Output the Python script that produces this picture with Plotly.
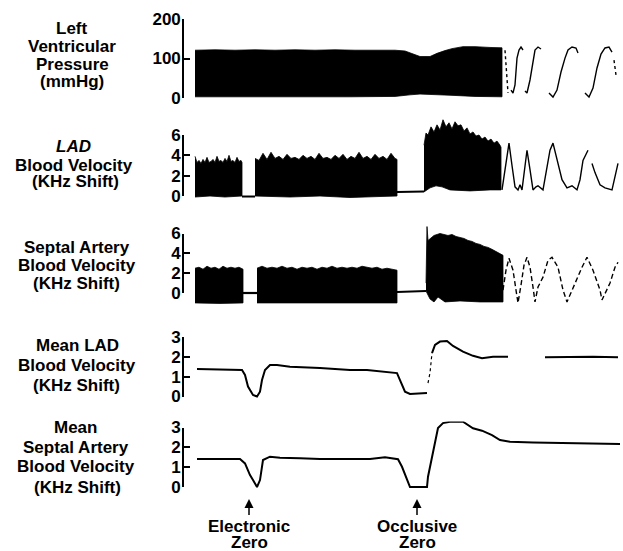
import plotly.graph_objects as go

W, H = 623, 551
ML, MR = 184, 3

# ---------------- data (time in chart units, values in axis units) ----------------
# Left ventricular pressure (mmHg): compressed high-frequency band envelope
lv_t_up = [195, 215, 235, 255, 275, 295, 315, 335, 355, 375, 395, 405, 412, 420, 430, 437, 445, 452, 463, 475, 490, 502]
lv_up = [121, 122, 121, 122, 121, 122, 121, 122, 121, 121, 121, 119, 113, 105, 105, 113, 120, 125, 130, 130, 128, 127]
lv_t_lo = [195, 250, 300, 350, 395, 410, 420, 435, 450, 475, 502]
lv_lo = [3, 3, 3, 3, 4, 8, 10, 9, 7, 4, 3]
# expanded-speed LV waveform (None = pen trace not visible)
lv_wave_t = [511, 513, 515, 516, 517, 519, 521, 523, None,
             525, 527, 530, 533, 535, 538, 541, None,
             549, 553, 557, 561, 565, 568, 572, 576, 578, None,
             585, 589, 593, 597, 601, 605, 609, 612]
lv_wave = [20, 12.7, 33, 71, 101, 121.5, 129, 121.5, None,
           17.7, 12.7, 45.6, 96, 121.5, 129, 124, None,
           12.7, 2.5, 20, 65.8, 101, 121.5, 129, 126.6, 114, None,
           12.7, 2.5, 25, 76, 111, 126.6, 129, 116]
lv_dots_t = [505, 506, 507, 508, None, 614, 616]
lv_dots = [121, 90, 45, 13, None, 96, 58]

# LAD blood velocity (kHz shift)
lad1_t_up = [195, 197, 199, 201, 203, 205, 207, 209, 211, 213, 215, 217, 219, 221, 223, 225, 227, 229, 231, 233, 235, 237, 239, 241, 242]
lad1_up = [3.9, 3.3, 3.5, 3.2, 3.6, 3.3, 3.8, 3.3, 3.4, 3.6, 3.3, 3.9, 3.4, 3.5, 3.3, 3.7, 3.4, 4.0, 3.4, 3.5, 3.3, 3.8, 3.4, 3.5, 3.3]
lad1_t_lo = [195, 210, 225, 242]
lad1_lo = [-0.1, 0.0, -0.1, 0.0]
lad2_t_up = [255, 259, 263, 267, 271, 275, 279, 283, 287, 291, 295, 299, 303, 307, 311, 315, 319, 323, 327,
             331, 335, 339, 343, 347, 351, 355, 359, 363, 367, 371, 375, 379, 383, 387, 391, 395, 397]
lad2_up = [3.7, 3.5, 4.2, 3.6, 4.3, 3.7, 3.9, 3.6, 4.1, 3.7, 3.8, 3.6, 4.0, 3.7, 3.9, 3.6, 4.2, 3.7, 3.8,
           3.6, 4.0, 3.7, 4.1, 3.6, 3.9, 3.7, 4.3, 3.7, 3.9, 3.6, 4.1, 3.7, 3.9, 3.6, 4.2, 3.7, 3.6]
lad2_t_lo = [255, 290, 320, 350, 380, 397]
lad2_lo = [0.0, -0.1, 0.0, -0.15, -0.05, 0.0]
lad3_t_up = [424, 426, 428, 431, 434, 437, 440, 443, 446, 449, 452, 455, 458, 461, 464, 467, 470, 473, 476,
             479, 482, 485, 488, 491, 494, 497, 500, 501]
lad3_up = [5.0, 6.2, 6.0, 6.8, 6.3, 7.0, 6.5, 7.5, 6.8, 7.2, 6.6, 7.3, 6.9, 7.0, 6.4, 6.7, 6.1, 6.3, 5.9,
           6.0, 5.6, 5.8, 5.4, 5.6, 5.2, 5.4, 5.0, 4.8]
lad3_t_lo = [424, 430, 436, 442, 450, 470, 490, 501]
lad3_lo = [0.4, 0.8, 1.0, 0.9, 0.6, 0.5, 0.6, 0.6]
lad_zero_t = [242, 255, None, 397, 424]
lad_zero = [-0.05, -0.05, None, 0.4, 0.45]
lad_wave_t = [502, 505, 509, 512, 515, 518, 520, 522, 524, 527, 530, 533, 536, 538, 543, 547, 550, 553, 557,
              562, 567, 572, 577, 580, 583, 588, None, 592, 595, 600, 605, 612, 615, 618]
lad_wave = [0.6, 2.6, 5.2, 3.0, 0.9, 0.6, 1.1, 0.6, 2.1, 4.5, 2.6, 0.6, 0.9, 1.0, 0.6, 2.9, 4.5, 5.2, 3.5,
            1.6, 0.8, 1.0, 0.6, 1.6, 3.5, 4.5, None, 3.2, 2.3, 1.1, 0.8, 0.6, 1.9, 3.2]

# Septal artery blood velocity (kHz shift)
sep1_t_up = [195, 199, 203, 207, 211, 215, 219, 223, 227, 231, 235, 239, 243]
sep1_up = [2.5, 2.6, 2.4, 2.7, 2.5, 2.6, 2.4, 2.7, 2.5, 2.6, 2.5, 2.6, 2.4]
sep1_t_lo = [195, 220, 243]
sep1_lo = [-1.0, -1.05, -1.0]
sep2_t_up = [257, 262, 267, 272, 277, 282, 287, 292, 297, 302, 307, 312, 317, 322, 327, 332, 337, 342, 347,
             352, 357, 362, 367, 372, 377, 382, 387, 392, 397]
sep2_up = [2.5, 2.7, 2.5, 2.6, 2.5, 2.7, 2.5, 2.6, 2.4, 2.6, 2.5, 2.6, 2.4, 2.6, 2.5, 2.7, 2.5, 2.6, 2.5,
           2.6, 2.5, 2.7, 2.6, 2.5, 2.6, 2.4, 2.5, 2.4, 2.3]
sep2_t_lo = [257, 300, 350, 397]
sep2_lo = [-1.0, -1.05, -1.0, -1.0]
sep3_t_up = [426, 427, 428, 431, 434, 437, 440, 444, 448, 452, 456, 460, 464, 468, 472, 476, 480, 484, 488,
             492, 496, 500, 503]
sep3_up = [1.0, 6.7, 5.3, 5.6, 5.8, 5.9, 6.0, 5.9, 5.8, 5.9, 5.7, 5.6, 5.5, 5.3, 5.2, 5.0, 4.9, 4.7, 4.6,
           4.4, 4.2, 4.0, 3.8]
sep3_t_lo = [426, 430, 434, 438, 445, 460, 480, 503]
sep3_lo = [0.2, -0.6, -0.9, -0.4, -0.9, -0.8, -0.9, -0.9]
sep_zero_t = [243, 257, None, 397, 426]
sep_zero = [0.0, 0.0, None, 0.1, 0.2]
sep_wave_t = [503, 506, 509, 513, 516, 518, 521, 524, 527, 530, 533, 535, 538, 543, 548, 552, 558, 563, 567,
              575, 582, 587, 593, 600, 602, 610, 615, 618]
sep_wave = [0.3, 2.3, 3.5, 2.3, 0.3, -1.0, 0.8, 2.8, 3.6, 2.6, 0.6, -0.9, 0.6, 1.6, 3.3, 3.6, 2.6, 0.3, -0.9,
            1.0, 2.6, 3.6, 2.3, 0.3, -0.7, 1.0, 2.6, 3.1]

# Mean LAD blood velocity (kHz shift); faint pen segment kept separately
mlad_t = [197, 215, 233, 242, 245, 248, 253, 257, 260, 262, 265, 270, 277, 290, 320, 350, 367, 388, 397, 400,
          405, 410, 427, None, 432, 435, 440, 447, 453, 463, 473, 482, 493, 508, None, 545, 567, 593, 618]
mlad = [1.39, 1.37, 1.34, 1.34, 1.09, 0.5, 0.08, 0.0, 0.24, 0.83, 1.34, 1.59, 1.59, 1.5, 1.44, 1.34, 1.34, 1.25,
        1.18, 0.83, 0.24, 0.13, 0.18, None, 2.19, 2.6, 2.77, 2.8, 2.55, 2.26, 2.05, 1.93, 2.0, 2.0, None,
        1.98, 2.0, 2.0, 1.98]
mlad_faint_t = [428, 430, 432]
mlad_faint = [0.68, 1.19, 2.19]

# Mean septal artery blood velocity (kHz shift)
msep_t = [197, 220, 240, 245, 250, 253, 257, 260, 263, 270, 280, 300, 320, 350, 370, 385, 398, 402, 407, 410,
          418, 427, 428, 432, 435, 438, 443, 450, 463, 468, 473, 482, 492, 500, 510, 533, 567, 600, 620]
msep = [1.41, 1.41, 1.41, 1.19, 0.6, 0.35, 0.0, 0.35, 1.36, 1.53, 1.48, 1.45, 1.41, 1.41, 1.41, 1.5, 1.4, 1.02,
        0.35, 0.0, 0.0, 0.0, 0.52, 1.53, 2.37, 2.97, 3.22, 3.29, 3.29, 3.13, 2.96, 2.84, 2.62, 2.37, 2.28, 2.25,
        2.23, 2.2, 2.17]

# axis ticks
lv_ticks = [0, 100, 200]
vel_ticks = [0, 2, 4, 6]
mean_ticks = [0, 1, 2, 3]

# event markers
event_t = [249, 417]
event_line1 = ["Electronic", "Occlusive"]
event_line2 = ["Zero", "Zero"]

# ---------------- layout helpers ----------------
def py2p(py):
    return 1 - py / H

def px2p(px):
    return (px - ML) / (W - ML - MR)

# (lo, hi, px_lo, px_hi, pad_bottom, pad_top, ticks)
panels = [
    (0, 200, 98, 19, 4, 4, lv_ticks),
    (0, 6, 196, 135, 10, 24, vel_ticks),
    (0, 6, 293, 233.5, 14, 12, vel_ticks),
    (0, 3, 396.5, 337, 6, 6, mean_ticks),
    (0, 3, 487, 427.5, 6, 6, mean_ticks),
]

FONT = "Liberation Sans"
fig = go.Figure()

def ax_id(i):
    return "y" if i == 1 else f"y{i}"

def band(tu, up, tl, lo, yid):
    fig.add_trace(go.Scatter(
        x=list(tu) + list(reversed(tl)), y=list(up) + list(reversed(lo)),
        fill="toself", fillcolor="black", mode="lines",
        line=dict(color="black", width=0.8), yaxis=yid, xaxis="x",
        showlegend=False, hoverinfo="skip"))

def line(t, v, yid, width=1.6, dash="solid"):
    fig.add_trace(go.Scatter(
        x=t, y=v, mode="lines", line=dict(color="black", width=width, dash=dash),
        connectgaps=False, yaxis=yid, xaxis="x", showlegend=False, hoverinfo="skip"))

# panel 1
band(lv_t_up, lv_up, lv_t_lo, lv_lo, "y")
line(lv_wave_t, lv_wave, "y", 1.4)
line(lv_dots_t, lv_dots, "y", 1.4, "dot")
# panel 2
band(lad1_t_up, lad1_up, lad1_t_lo, lad1_lo, "y2")
band(lad2_t_up, lad2_up, lad2_t_lo, lad2_lo, "y2")
band(lad3_t_up, lad3_up, lad3_t_lo, lad3_lo, "y2")
line(lad_zero_t, lad_zero, "y2", 2)
line(lad_wave_t, lad_wave, "y2", 1.4)
# panel 3
band(sep1_t_up, sep1_up, sep1_t_lo, sep1_lo, "y3")
band(sep2_t_up, sep2_up, sep2_t_lo, sep2_lo, "y3")
band(sep3_t_up, sep3_up, sep3_t_lo, sep3_lo, "y3")
line(sep_zero_t, sep_zero, "y3", 2.2)
line(sep_wave_t, sep_wave, "y3", 1.4, "5px,3px")
# panels 4-5
line(mlad_t, mlad, "y4", 2)
line(mlad_faint_t, mlad_faint, "y4", 1.2, "3px,3px")
line(msep_t, msep, "y5", 2)

# bracket axes (need a trace to exist)
for k in range(6, 11):
    fig.add_trace(go.Scatter(x=[None], y=[None], yaxis=ax_id(k), xaxis="x",
                             showlegend=False, hoverinfo="skip"))

layout = dict(
    width=W, height=H,
    margin=dict(l=ML, r=MR, t=0, b=0, autoexpand=False),
    paper_bgcolor="white", plot_bgcolor="rgba(0,0,0,0)",
    showlegend=False,
    xaxis=dict(domain=[0, 1], range=[ML, W - MR], visible=False, anchor="y", fixedrange=True),
)
for i, (lo, hi, pl, ph, pb, pt, ticks) in enumerate(panels, start=1):
    scale = (pl - ph) / (hi - lo)
    layout["yaxis" if i == 1 else f"yaxis{i}"] = dict(
        domain=[py2p(pl + pb), py2p(ph - pt)],
        range=[lo - pb / scale, hi + pt / scale],
        visible=False, anchor="x", fixedrange=True)
    layout[f"yaxis{i + 5}"] = dict(
        domain=[py2p(pl), py2p(ph)], range=[lo, hi], anchor="x",
        showline=True, linecolor="black", linewidth=1.6,
        ticks="inside", ticklen=6, tickwidth=1.6, tickcolor="black",
        tickvals=ticks, ticktext=[str(v) for v in ticks], ticklabelstandoff=-2,
        tickfont=dict(family=FONT, size=17, color="black", weight="bold"),
        showgrid=False, zeroline=False, automargin=False, fixedrange=True)
fig.update_layout(**layout)

# left-hand labels
labels = [
    ("Left", 72, 29), ("Ventricular", 72, 46.5), ("Pressure", 72, 64.5), ("(mmHg)", 72, 81),
    ("<i>LAD</i>", 73, 147), ("Blood Velocity", 74, 165), ("(KHz Shift)", 75, 182),
    ("Septal Artery", 77, 247), ("Blood Velocity", 76.5, 265), ("(KHz Shift)", 76.5, 283),
    ("Mean LAD", 77, 346), ("Blood Velocity", 77, 365), ("(KHz Shift)", 76, 385),
    ("Mean", 75, 427), ("Septal Artery", 76, 447), ("Blood Velocity", 76, 466), ("(KHz Shift)", 77, 487),
]
for txt, cx, cy in labels:
    fig.add_annotation(text=txt, x=px2p(cx), y=py2p(cy), xref="paper", yref="paper",
                       xanchor="center", yanchor="middle", showarrow=False,
                       font=dict(family=FONT, size=17, color="black", weight="bold"))

for t, l1, l2 in zip(event_t, event_line1, event_line2):
    fig.add_annotation(text=l1, x=t, y=py2p(499), xref="x", yref="paper",
                       showarrow=True, ax=0, ay=27, arrowhead=2, arrowsize=1.2, arrowwidth=1.5,
                       arrowcolor="black", standoff=0,
                       font=dict(family=FONT, size=17, color="black", weight="bold"))
    fig.add_annotation(text=l2, x=t, y=py2p(542), xref="x", yref="paper",
                       xanchor="center", yanchor="middle", showarrow=False,
                       font=dict(family=FONT, size=17, color="black", weight="bold"))

fig.write_html("out.html", config={"displayModeBar": False},
               post_script="document.body.style.margin='0';document.body.style.overflow='hidden';")
